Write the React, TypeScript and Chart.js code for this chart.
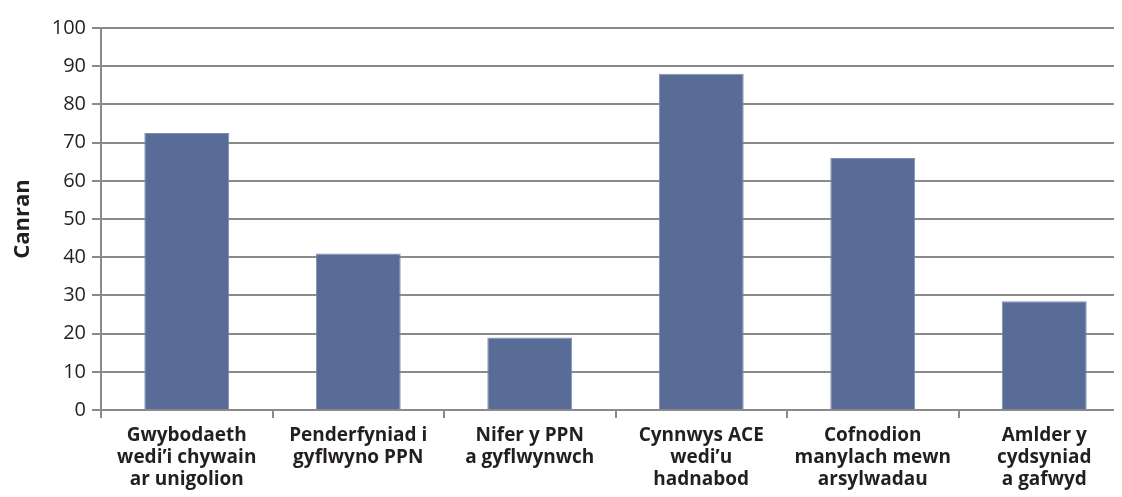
import React, { useEffect, useRef } from "react";
import { Chart, registerables } from "chart.js";

Chart.register(...registerables);

const categories: string[][] = [
  ["Gwybodaeth", "wedi’i chywain", "ar unigolion"],
  ["Penderfyniad i", "gyflwyno PPN"],
  ["Nifer y PPN", "a gyflwynwch"],
  ["Cynnwys ACE", "wedi’u", "hadnabod"],
  ["Cofnodion", "manylach mewn", "arsylwadau"],
  ["Amlder y", "cydsyniad", "a gafwyd"],
];
const values: number[] = [72.5, 41, 19, 88, 66, 28.5];
const yTitle = "Canran";
const yMin = 0;
const yMax = 100;
const yStep = 10;

const FONT = "'Open Sans', 'Noto Sans', sans-serif";
const TEXT = "#231f20";
const GRID = "#8a8a8a";

export default function App() {
  const ref = useRef<HTMLCanvasElement | null>(null);

  useEffect(() => {
    document.body.style.overflow = "hidden";
    document.documentElement.style.overflow = "hidden";
    const canvas = ref.current;
    if (!canvas) return;
    const chart = new Chart(canvas, {
      type: "bar",
      data: {
        labels: categories,
        datasets: [
          {
            data: values,
            backgroundColor: "#596c97",
            borderColor: "#7f8eb2",
            borderWidth: 1,
            barPercentage: 0.495,
            categoryPercentage: 1,
          },
        ],
      },
      options: {
        animation: false,
        responsive: false,
        devicePixelRatio: 1,
        layout: { padding: { top: 20, right: 0, left: 0, bottom: 0 } },
        plugins: {
          legend: { display: false },
          tooltip: { enabled: false },
          title: { display: false },
        },
        scales: {
          x: {
            offset: true,
            grid: {
              offset: true,
              drawOnChartArea: false,
              drawTicks: true,
              tickLength: 8,
              color: GRID,
              lineWidth: 2,
            },
            border: { color: GRID, width: 2 },
            ticks: {
              color: TEXT,
              padding: 6,
              maxRotation: 0,
              autoSkip: false,
              font: { family: FONT, size: 19, weight: "bold", lineHeight: 1.18 },
            },
            afterFit: (scale: any) => {
              scale.height = 87;
            },
          },
          y: {
            min: yMin,
            max: yMax,
            ticks: {
              stepSize: yStep,
              color: TEXT,
              padding: 6,
              font: { family: FONT, size: 20 },
            },
            grid: {
              color: GRID,
              lineWidth: 2,
              drawTicks: true,
              tickLength: 9,
            },
            border: { color: GRID, width: 2 },
            title: {
              display: true,
              text: yTitle,
              color: TEXT,
              padding: { top: 2, bottom: 0 },
              font: { family: FONT, size: 22, weight: "bold", lineHeight: 1.2 },
            },
            afterFit: (scale: any) => {
              scale.width = 93;
            },
          },
        },
      },
    });
    return () => chart.destroy();
  }, []);

  return (
    <div style={{ width: 1122, height: 489 }}>
      <canvas ref={ref} width={1122} height={489} style={{ display: "block" }} />
    </div>
  );
}
